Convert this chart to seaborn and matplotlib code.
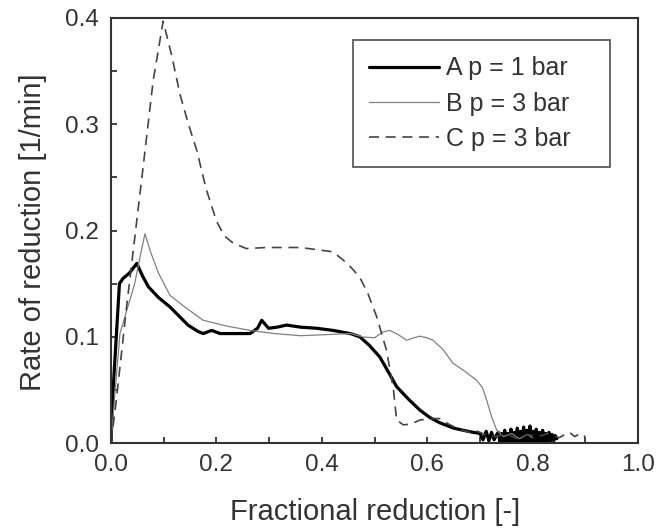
import matplotlib
matplotlib.use("Agg")
import matplotlib.pyplot as plt
import seaborn as sns
import pandas as pd
from matplotlib.ticker import MultipleLocator

# ---- data ----
A_x = [0.0, 0.004, 0.010, 0.016, 0.023, 0.035, 0.049, 0.060, 0.071, 0.090, 0.112, 0.130, 0.146,
       0.165, 0.175, 0.191, 0.207, 0.235, 0.264, 0.278, 0.286, 0.299, 0.315, 0.333, 0.360, 0.390,
       0.421, 0.454, 0.472, 0.490, 0.510, 0.525, 0.542, 0.565, 0.586, 0.605, 0.624, 0.650, 0.681,
       0.700, 0.706, 0.712, 0.717, 0.722, 0.727, 0.732,
       0.735, 0.738, 0.741, 0.744, 0.747, 0.750, 0.753, 0.756, 0.759, 0.762, 0.765, 0.768, 0.771,
       0.774, 0.777, 0.780, 0.783, 0.786, 0.789, 0.792, 0.795, 0.798, 0.801, 0.804, 0.807, 0.810,
       0.813, 0.816, 0.819, 0.822, 0.825, 0.828, 0.831, 0.834, 0.837, 0.840, 0.843, 0.846]
A_y = [0.0, 0.050, 0.100, 0.150, 0.155, 0.160, 0.169, 0.157, 0.147, 0.137, 0.128, 0.119, 0.111,
       0.105, 0.103, 0.106, 0.103, 0.103, 0.103, 0.108, 0.1155, 0.108, 0.109, 0.111, 0.109, 0.108,
       0.106, 0.103, 0.100, 0.092, 0.081, 0.068, 0.053, 0.041, 0.031, 0.024, 0.019, 0.014, 0.0106,
       0.009, 0.003, 0.011, 0.002, 0.010, 0.003, 0.008,
       0.010, 0.001, 0.009, 0.000, 0.012, 0.002, 0.009, -0.002, 0.013, 0.001, 0.010, 0.002, 0.014,
       0.000, 0.011, 0.002, 0.015, -0.001, 0.012, 0.001, 0.016, -0.003, 0.011, 0.002, 0.013, 0.000,
       0.010, 0.001, 0.012, 0.002, 0.009, 0.001, 0.010, 0.002, 0.008, 0.002, 0.007, 0.004]

B_x = [0.0, 0.008, 0.017, 0.030, 0.045, 0.055, 0.0645, 0.075, 0.090, 0.112, 0.140, 0.175, 0.220,
       0.264, 0.310, 0.359, 0.410, 0.454, 0.478, 0.500, 0.516, 0.529, 0.545, 0.561, 0.575, 0.586,
       0.600, 0.611, 0.630, 0.649, 0.670, 0.694, 0.705, 0.713, 0.722, 0.732, 0.745, 0.760, 0.775,
       0.790, 0.800]
B_y = [0.0, 0.050, 0.103, 0.125, 0.150, 0.175, 0.197, 0.180, 0.160, 0.139, 0.128, 0.1155, 0.110,
       0.106, 0.103, 0.101, 0.102, 0.103, 0.0998, 0.099, 0.1045, 0.106, 0.102, 0.0967, 0.099, 0.1005,
       0.099, 0.0967, 0.088, 0.075, 0.068, 0.059, 0.052, 0.040, 0.025, 0.012, 0.006, 0.009, 0.004,
       0.008, 0.005]

C_x = [0.0, 0.010, 0.020, 0.030, 0.046, 0.061, 0.080, 0.099, 0.115, 0.131, 0.147, 0.163, 0.180,
       0.200, 0.215, 0.232, 0.257, 0.295, 0.359, 0.421, 0.441, 0.456, 0.472, 0.488, 0.504, 0.523,
       0.536, 0.542, 0.555, 0.570, 0.586, 0.605, 0.624, 0.640, 0.660, 0.680, 0.690, 0.710, 0.730,
       0.750, 0.770, 0.790, 0.810, 0.830, 0.850, 0.870, 0.880, 0.890, 0.900]
C_y = [0.0, 0.040, 0.085, 0.130, 0.197, 0.260, 0.341, 0.397, 0.365, 0.328, 0.300, 0.275, 0.240,
       0.209, 0.195, 0.188, 0.183, 0.184, 0.184, 0.180, 0.172, 0.165, 0.156, 0.140, 0.119, 0.087,
       0.050, 0.0216, 0.017, 0.018, 0.0216, 0.023, 0.023, 0.018, 0.013, 0.010, 0.012, 0.008, 0.006,
       0.009, 0.004, 0.008, 0.006, 0.009, 0.005, 0.010, 0.006, 0.009, 0.006]

labels = ["A p = 1 bar", "B p = 3 bar", "C p = 3 bar"]
x_ticks = [0.0, 0.2, 0.4, 0.6, 0.8, 1.0]
y_ticks = [0.0, 0.1, 0.2, 0.3, 0.4]

sns.set_theme(style="ticks")
plt.rcParams['font.family'] = ['Liberation Sans', 'DejaVu Sans']
plt.rcParams.update({
    "xtick.direction": "in", "ytick.direction": "in",
    "xtick.major.size": 4.5, "ytick.major.size": 4.5,
    "xtick.minor.size": 4, "ytick.minor.size": 4,
    "xtick.major.width": 1.3, "ytick.major.width": 1.3,
    "xtick.minor.width": 1.3, "ytick.minor.width": 1.3,
    "xtick.color": "#333333", "ytick.color": "#333333",
    "xtick.minor.visible": True, "ytick.minor.visible": True,
})

W, H = 659, 532
fig = plt.figure(figsize=(W / 100, H / 100), dpi=100)
L, R, T, B = 111, 638, 18, 443
ax = fig.add_axes([L / W, 1 - B / H, (R - L) / W, (B - T) / H])

dA = pd.DataFrame({"x": A_x, "y": A_y})
dB = pd.DataFrame({"x": B_x, "y": B_y})
dC = pd.DataFrame({"x": C_x, "y": C_y})

sns.lineplot(data=dA, x="x", y="y", ax=ax, sort=False, estimator=None,
             color="black", linewidth=2.3, label=labels[0])
sns.lineplot(data=dB, x="x", y="y", ax=ax, sort=False, estimator=None,
             color="#808080", linewidth=0.9, label=labels[1])
sns.lineplot(data=dC, x="x", y="y", ax=ax, sort=False, estimator=None,
             color="#444444", linewidth=1.2, label=labels[2])
ax.lines[2].set_dashes([6, 4])

ax.set_xlim(0, 1.0)
ax.set_ylim(0, 0.4)
ax.set_xticks(x_ticks)
ax.set_yticks(y_ticks)
ax.set_xticklabels([f"{v:.1f}" for v in x_ticks])
ax.set_yticklabels([f"{v:.1f}" for v in y_ticks])
ax.xaxis.set_minor_locator(MultipleLocator(0.1))
ax.yaxis.set_minor_locator(MultipleLocator(0.05))
ax.tick_params(axis="both", which="major", labelsize=17.5, labelcolor="#333333")
ax.tick_params(axis="y", which="major", pad=9)
ax.tick_params(axis="x", which="major", pad=8)
for s in ax.spines.values():
    s.set_linewidth(1.5)
    s.set_color("#333333")

ax.set_xlabel("Fractional reduction [-]", fontsize=21, color="#333333")
ax.set_ylabel("Rate of reduction [1/min]", fontsize=21, color="#333333")
ax.xaxis.set_label_coords((375 - L) / (R - L), -(498 - B) / (B - T))
ax.yaxis.set_label_coords(-(L - 47) / (R - L), (B - 232) / (B - T))

lx0, lx1, ly0, ly1 = 353, 610, 40, 168
leg = ax.legend(loc="upper left",
                bbox_to_anchor=((lx0 - L) / (R - L), (B - ly1) / (B - T),
                                (lx1 - lx0) / (R - L), (ly1 - ly0) / (B - T)),
                mode="expand", fontsize=18, frameon=True, fancybox=False,
                edgecolor="#333333", handlelength=2.8, handletextpad=0.25,
                labelspacing=0.45, borderpad=0.65, borderaxespad=0)
leg.get_frame().set_linewidth(1.3)
for t in leg.get_texts():
    t.set_color("#333333")

fig.savefig("out.png", dpi=100)
